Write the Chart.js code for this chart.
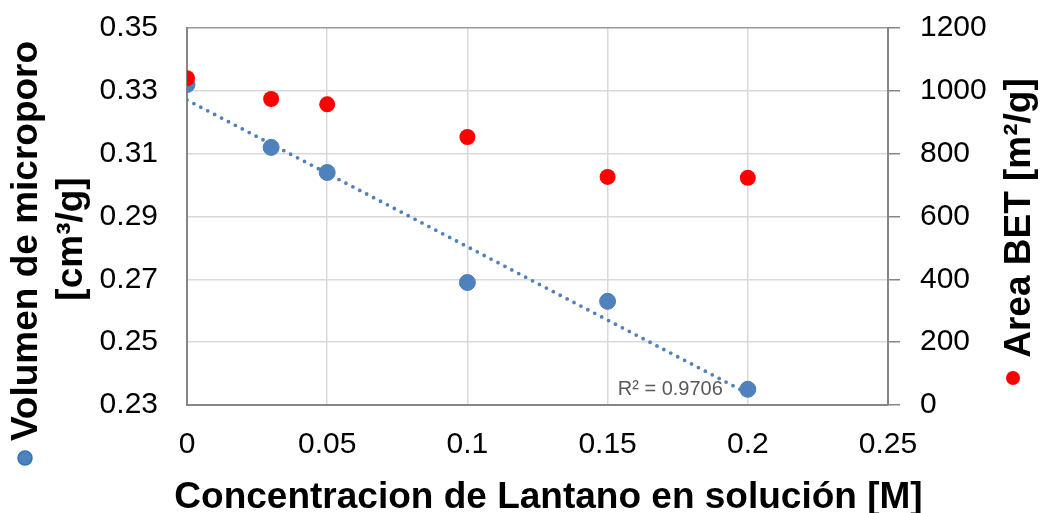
<!DOCTYPE html>
<html>
<head>
<meta charset="utf-8">
<script src="https://cdn.jsdelivr.net/npm/chart.js@4/dist/chart.umd.min.js"></script>
<style>
  html, body { margin: 0; padding: 0; background: #fff; }
  #wrap { width: 1042px; height: 513px; }
</style>
</head>
<body>
<div id="wrap"><canvas id="chart" width="1042" height="513"></canvas></div>
<script>
// concentracion de La [M]
const concentracion = [0, 0.03, 0.05, 0.1, 0.15, 0.2];
// volumen de microporo [cm3/g]
const volumenMicroporo = [0.332, 0.312, 0.304, 0.269, 0.263, 0.235];
// area BET [m2/g]
const areaBET = [1040, 974, 957, 853, 726, 723];

const xTicks = [0, 0.05, 0.1, 0.15, 0.2, 0.25];
const yLeftTicks = [0.23, 0.25, 0.27, 0.29, 0.31, 0.33, 0.35];
const yRightTicks = [0, 200, 400, 600, 800, 1000, 1200];

const FONT = '"Liberation Sans", Arial, sans-serif';
const AZUL = '#4F81BD';
const ROJO = '#FF0000';
const EJE = '#868686';
const REJILLA = '#D9D9D9';

// regresion lineal para la linea de tendencia
function regresion(xs, ys) {
  const n = xs.length;
  const mx = xs.reduce((a, b) => a + b, 0) / n;
  const my = ys.reduce((a, b) => a + b, 0) / n;
  let sxx = 0, sxy = 0, syy = 0;
  for (let i = 0; i < n; i++) {
    sxx += (xs[i] - mx) ** 2;
    sxy += (xs[i] - mx) * (ys[i] - my);
    syy += (ys[i] - my) ** 2;
  }
  const m = sxy / sxx;
  return { m: m, b: my - m * mx, r2: (sxy * sxy) / (sxx * syy) };
}
const tendencia = regresion(concentracion, volumenMicroporo);
const xMin = Math.min(...concentracion), xMax = Math.max(...concentracion);

const puntos = (xs, ys) => xs.map((x, i) => ({ x: x, y: ys[i] }));

// ancho fijo para los ejes verticales, sin el relleno extra de las etiquetas
const anchoFijo = w => s => { s.width = w; s.paddingTop = 0; s.paddingBottom = 0; };

// titulos de ejes con su marcador y la etiqueta del R2
const titulos = {
  id: 'titulos',
  afterDraw(chart) {
    const ctx = chart.ctx;
    const x = chart.scales.x;
    const area = chart.chartArea;
    ctx.save();
    ctx.fillStyle = '#000';
    ctx.font = 'bold 37px ' + FONT;
    ctx.textAlign = 'center';
    ctx.textBaseline = 'alphabetic';
    ctx.fillText('Concentracion de Lantano en solución [M]', (area.left + area.right) / 2 + 11, 508);

    ctx.textBaseline = 'middle';
    ctx.save();
    ctx.translate(27, 241);
    ctx.rotate(-Math.PI / 2);
    ctx.fillText('Volumen de microporo', 0, 0);
    ctx.restore();
    ctx.save();
    ctx.translate(72, 239);
    ctx.rotate(-Math.PI / 2);
    ctx.fillText('[cm³/g]', 0, 0);
    ctx.restore();
    ctx.save();
    ctx.translate(1020, 218);
    ctx.rotate(-Math.PI / 2);
    ctx.fillText('Area BET [m²/g]', 0, 0);
    ctx.restore();

    // marcadores de serie
    ctx.beginPath();
    ctx.arc(25, 458, 7, 0, Math.PI * 2);
    ctx.fillStyle = AZUL;
    ctx.fill();
    ctx.lineWidth = 1.5;
    ctx.strokeStyle = '#2E75B6';
    ctx.stroke();
    ctx.beginPath();
    ctx.arc(1013, 378, 7, 0, Math.PI * 2);
    ctx.fillStyle = ROJO;
    ctx.fill();

    // R2 de la tendencia
    ctx.font = '20px ' + FONT;
    ctx.fillStyle = '#595959';
    ctx.textAlign = 'right';
    ctx.fillText('R² = ' + tendencia.r2.toFixed(4), x.getPixelForValue(xMax) - 25, 389);
    ctx.restore();
  }
};

new Chart(document.getElementById('chart'), {
  type: 'scatter',
  data: {
    datasets: [
      {
        label: 'Area BET',
        data: puntos(concentracion, areaBET),
        yAxisID: 'y1',
        backgroundColor: ROJO,
        borderColor: ROJO,
        borderWidth: 0,
        pointRadius: 8,
        pointHoverRadius: 8,
        order: 0
      },
      {
        label: 'Tendencia',
        data: [
          { x: xMin, y: tendencia.b + tendencia.m * xMin },
          { x: xMax, y: tendencia.b + tendencia.m * xMax }
        ],
        yAxisID: 'y',
        showLine: true,
        borderColor: AZUL,
        borderWidth: 3.8,
        borderDash: [0, 7.8],
        borderCapStyle: 'round',
        pointRadius: 0,
        order: 1
      },
      {
        label: 'Volumen de microporo',
        data: puntos(concentracion, volumenMicroporo),
        yAxisID: 'y',
        backgroundColor: AZUL,
        borderColor: '#4A7EBB',
        borderWidth: 1,
        pointRadius: 8,
        pointHoverRadius: 8,
        order: 2
      }
    ]
  },
  options: {
    responsive: false,
    animation: false,
    events: [],
    layout: { padding: { top: 28, left: 0, right: 0, bottom: 0 } },
    plugins: {
      legend: { display: false },
      tooltip: { enabled: false }
    },
    scales: {
      x: {
        type: 'linear',
        min: xTicks[0],
        max: xTicks[xTicks.length - 1],
        afterFit: s => { s.height = 108; },
        afterBuildTicks: s => { s.ticks = xTicks.map(v => ({ value: v })); },
        border: { display: true, color: EJE, width: 2 },
        grid: { color: REJILLA, lineWidth: 1.5, drawTicks: false },
        ticks: {
          padding: 22,
          color: '#000',
          font: { family: FONT, size: 30 },
          callback: v => String(+v.toFixed(2))
        }
      },
      y: {
        position: 'left',
        min: yLeftTicks[0],
        max: yLeftTicks[yLeftTicks.length - 1],
        afterFit: anchoFijo(187),
        afterBuildTicks: s => { s.ticks = yLeftTicks.map(v => ({ value: v })); },
        border: { display: true, color: EJE, width: 2 },
        grid: {
          color: c => (c.tick && c.tick.value === yLeftTicks[yLeftTicks.length - 1]) ? '#9A9A9A' : REJILLA,
          lineWidth: 1.5,
          drawTicks: false
        },
        ticks: {
          padding: 29,
          color: '#000',
          font: { family: FONT, size: 30 },
          callback: v => v.toFixed(2)
        }
      },
      y1: {
        position: 'right',
        min: yRightTicks[0],
        max: yRightTicks[yRightTicks.length - 1],
        afterFit: anchoFijo(154),
        afterBuildTicks: s => { s.ticks = yRightTicks.map(v => ({ value: v })); },
        border: { display: true, color: EJE, width: 2 },
        grid: { drawOnChartArea: false, color: EJE, lineWidth: 1.5, tickLength: 12 },
        ticks: {
          padding: 20,
          color: '#000',
          font: { family: FONT, size: 30 },
          callback: v => String(v)
        }
      }
    }
  },
  plugins: [titulos]
});
</script>
</body>
</html>
